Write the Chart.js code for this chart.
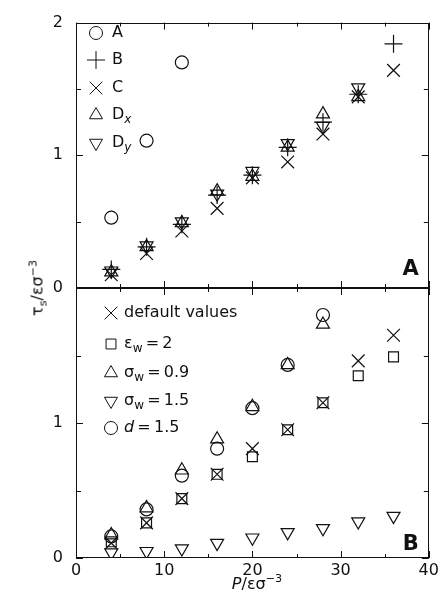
<!DOCTYPE html>
<html><head><meta charset="utf-8">
<script src="https://cdn.jsdelivr.net/npm/chart.js"></script>
<style>
html,body{margin:0;padding:0;background:#fff;}
#wrap{position:relative;width:439px;height:604px;overflow:hidden;font-family:"DejaVu Sans",sans-serif;color:#111;}
canvas{position:absolute;left:0;top:0;}
.ytitle{position:absolute;left:37px;top:288px;transform:translate(-50%,-50%) rotate(-90deg);font-size:16px;white-space:nowrap;}
.xtitle{position:absolute;left:257px;top:583px;transform:translate(-50%,-50%);font-size:16px;white-space:nowrap;}
sub,sup{font-size:70%;line-height:0;}
</style></head>
<body><div id="wrap">
<canvas id="cTop" width="439" height="604"></canvas>
<canvas id="cBot" width="439" height="604"></canvas>
<div class="ytitle">τ<sub>s</sub>/εσ<sup>−3</sup></div>
<div class="xtitle"><i>P</i>/εσ<sup>−3</sup></div>
</div>
<script>
// ---- data ----
const P = [4, 8, 12, 16, 20, 24, 28, 32, 36];
// panel A
const seriesA  = [0.53, 1.11, 1.70, null, null, null, null, null, null];
const seriesB  = [0.14, 0.31, 0.48, 0.70, 0.85, 1.06, 1.25, 1.46, 1.84];
const seriesC  = [0.10, 0.26, 0.43, 0.60, 0.83, 0.95, 1.16, 1.44, 1.64];
const seriesDx = [0.12, 0.31, 0.49, 0.73, 0.84, 1.06, 1.31, 1.44, null];
const seriesDy = [0.13, 0.32, 0.50, 0.71, 0.88, 1.09, 1.22, 1.51, null];
// panel B
const seriesDefault = [0.11, 0.26, 0.44, 0.62, 0.81, 0.95, 1.15, 1.46, 1.65];
const seriesEps2    = [0.12, 0.26, 0.44, 0.62, 0.75, 0.95, 1.15, 1.35, 1.49];
const seriesSig09   = [0.17, 0.37, 0.65, 0.88, 1.12, 1.43, 1.73, null, null];
const seriesSig15   = [0.04, 0.05, 0.07, 0.11, 0.15, 0.19, 0.22, 0.27, 0.31];
const seriesD15     = [0.16, 0.36, 0.61, 0.81, 1.11, 1.43, 1.80, null, null];
// ticks
const xTickValues = [0, 5, 10, 15, 20, 25, 30, 35, 40];
const xTickLabels = [0, 10, 20, 30, 40];
const yTickValues = [0, 0.5, 1, 1.5, 2];

const FONT = '"DejaVu Sans", sans-serif';
const INK = '#111';

function pts(vals){ return P.map((p,i)=>vals[i]==null?null:{x:p,y:vals[i]}).filter(v=>v); }

const markers = {
  circle:   {pointStyle:'circle',   radius:6.5, rotation:0},
  plus:     {pointStyle:'cross',    radius:9,   rotation:0},
  times:    {pointStyle:'crossRot', radius:9,   rotation:0},
  up:       {pointStyle:'triangle', radius:7.5, rotation:0},
  down:     {pointStyle:'triangle', radius:7.5, rotation:180},
  square:   {pointStyle:'rect',     radius:7,   rotation:0}
};

function ds(label, vals, m){
  const mk = markers[m];
  return {label, data: pts(vals), showLine:false,
    pointStyle: mk.pointStyle, pointRadius: mk.radius, pointHoverRadius: mk.radius,
    pointRotation: mk.rotation, pointBorderWidth: 1.2, pointBorderColor: INK,
    pointBackgroundColor: 'rgba(0,0,0,0)', borderColor: INK, backgroundColor:'rgba(0,0,0,0)'};
}

function drawParts(ctx, parts, x, y){
  for (const [t, kind] of parts){
    let size = 16, dy = 0, style = '';
    if (kind === 'sub' || kind === 'isub'){ size = 12; dy = 5; }
    if (kind === 'i' || kind === 'isub'){ style = 'italic '; }
    ctx.font = style + size + 'px ' + FONT;
    ctx.fillText(t, x, y + dy);
    x += ctx.measureText(t).width;
  }
}

const panelPlugin = {
  id: 'panel',
  afterDraw(chart, args, opts){
    const {ctx, chartArea: a, scales} = chart;
    const xs = scales.x, ys = scales.y;
    ctx.save();
    ctx.strokeStyle = INK; ctx.lineWidth = 1;
    ctx.strokeRect(Math.round(a.left)+0.5, Math.round(a.top)+0.5, Math.round(a.right-a.left)-1, Math.round(a.bottom-a.top)-1);
    ctx.beginPath();
    xTickValues.forEach(v=>{
      const px = Math.round(xs.getPixelForValue(v))+0.5;
      const len = v % 10 === 0 ? 7 : 4;
      ctx.moveTo(px, a.bottom); ctx.lineTo(px, a.bottom - len);
      ctx.moveTo(px, a.top); ctx.lineTo(px, a.top + len);
    });
    yTickValues.forEach(v=>{
      const py = Math.round(ys.getPixelForValue(v))+0.5;
      const len = Number.isInteger(v) ? 7 : 5;
      ctx.moveTo(a.left, py); ctx.lineTo(a.left + len, py);
      ctx.moveTo(a.right, py); ctx.lineTo(a.right - len, py);
    });
    ctx.stroke();
    // legend
    ctx.textBaseline = 'middle'; ctx.textAlign = 'left';
    opts.legend.forEach((it, i)=>{
      const y = opts.legendY[i];
      const mk = markers[it.marker];
      ctx.strokeStyle = INK; ctx.fillStyle = 'rgba(0,0,0,0)';
      Chart.helpers.drawPoint(ctx, {pointStyle: mk.pointStyle, rotation: mk.rotation, radius: mk.radius, borderWidth: 1.2}, opts.legendX, y);
      ctx.fillStyle = INK;
      drawParts(ctx, it.parts, opts.textX, y);
    });
    // panel letter
    ctx.font = 'bold 21px ' + FONT;
    ctx.textAlign = 'right'; ctx.textBaseline = 'alphabetic';
    ctx.fillText(opts.letter, a.right - 10, a.bottom - opts.letterOff);
    ctx.restore();
  }
};

const tickFont = {family: FONT, size: 16};

// ---- top chart ----
new Chart(document.getElementById('cTop'), {
  type: 'scatter',
  data: { datasets: [
    ds('A', seriesA, 'circle'),
    ds('B', seriesB, 'plus'),
    ds('C', seriesC, 'times'),
    ds('Dx', seriesDx, 'up'),
    ds('Dy', seriesDy, 'down')
  ]},
  options: {
    responsive: false, animation: false, events: [],
    layout: {padding: {top: 17, left: 0, right: 9, bottom: 316}},
    plugins: {legend: {display: false}, tooltip: {enabled: false},
      panel: {
        letter: 'A', letterOff: 13, legendX: 96, textX: 112,
        legendY: [33, 60, 88, 115, 143],
        legend: [
          {marker:'circle', parts:[['A','n']]},
          {marker:'plus',   parts:[['B','n']]},
          {marker:'times',  parts:[['C','n']]},
          {marker:'up',     parts:[['D','n'],['x','isub']]},
          {marker:'down',   parts:[['D','n'],['y','isub']]}
        ]
      }
    },
    scales: {
      x: {type:'linear', min:0, max:40, display:false},
      y: {type:'linear', min:0, max:2,
        grid:{display:false, drawTicks:false}, border:{display:false},
        ticks:{stepSize:0.5, padding:13, color:INK, font:tickFont,
          callback: v => Number.isInteger(v) ? String(v) : ''},
        afterFit: s => { s.width = 76; }
      }
    }
  },
  plugins: [panelPlugin]
});

// ---- bottom chart ----
new Chart(document.getElementById('cBot'), {
  type: 'scatter',
  data: { datasets: [
    ds('default values', seriesDefault, 'times'),
    ds('εw=2', seriesEps2, 'square'),
    ds('σw=0.9', seriesSig09, 'up'),
    ds('σw=1.5', seriesSig15, 'down'),
    ds('d=1.5', seriesD15, 'circle')
  ]},
  options: {
    responsive: false, animation: false, events: [],
    layout: {padding: {top: 288, left: 0, right: 0, bottom: 0}},
    plugins: {legend: {display: false}, tooltip: {enabled: false},
      panel: {
        letter: 'B', letterOff: 8, legendX: 111, textX: 124,
        legendY: [313, 344, 373, 401, 428],
        legend: [
          {marker:'times',  parts:[['default values','n']]},
          {marker:'square', parts:[['ε','n'],['w','sub'],['\u2009=\u20092','n']]},
          {marker:'up',     parts:[['σ','n'],['w','sub'],['\u2009=\u20090.9','n']]},
          {marker:'down',   parts:[['σ','n'],['w','sub'],['\u2009=\u20091.5','n']]},
          {marker:'circle', parts:[['d','i'],['\u2009=\u20091.5','n']]}
        ]
      }
    },
    scales: {
      x: {type:'linear', min:0, max:40,
        grid:{display:false, drawTicks:false}, border:{display:false},
        ticks:{stepSize:10, padding:3, color:INK, font:tickFont, maxRotation:0,
          callback: v => xTickLabels.includes(v) ? String(v) : ''},
        afterFit: s => { s.height = 46; s.paddingLeft = 0; s.paddingRight = 9; }
      },
      y: {type:'linear', min:0, max:2,
        grid:{display:false, drawTicks:false}, border:{display:false},
        ticks:{stepSize:0.5, padding:13, color:INK, font:tickFont,
          callback: v => (Number.isInteger(v) && v < 2) ? String(v) : ''},
        afterFit: s => { s.width = 76; }
      }
    }
  },
  plugins: [panelPlugin]
});
</script>
</body></html>
